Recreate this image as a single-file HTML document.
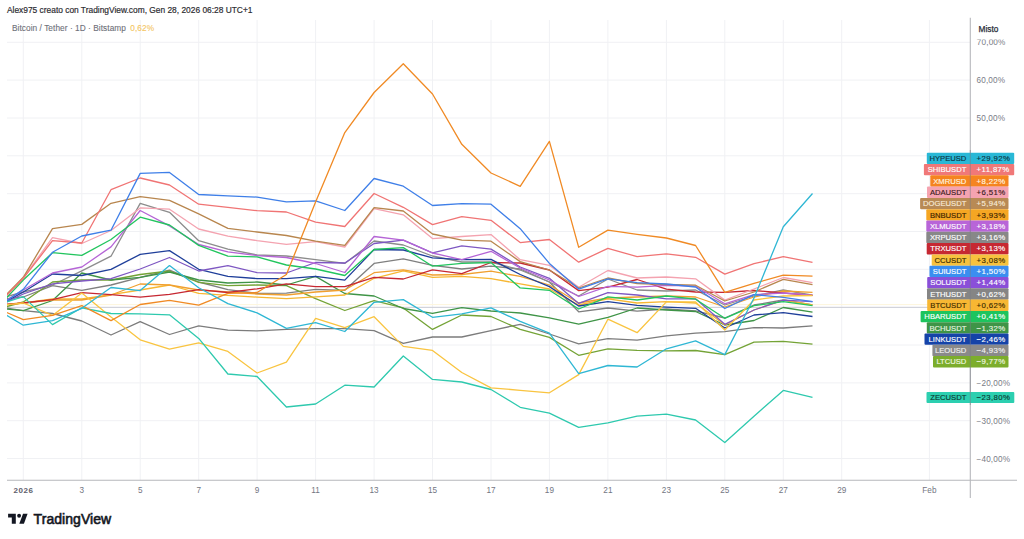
<!DOCTYPE html><html><head><meta charset="utf-8"><style>html,body{margin:0;padding:0;background:#fff;width:1024px;height:539px;overflow:hidden}svg{display:block}text{font-family:"Liberation Sans",sans-serif}</style></head><body>
<svg width="1024" height="539" viewBox="0 0 1024 539">
<rect width="1024" height="539" fill="#fff"/>
<path d="M7 42.3H970.3 M7 80.1H970.3 M7 118.0H970.3 M7 155.8H970.3 M7 193.7H970.3 M7 231.5H970.3 M7 269.3H970.3 M7 307.2H970.3 M7 345.0H970.3 M7 382.9H970.3 M7 420.7H970.3 M7 458.5H970.3 M23.3 20V480 M81.8 20V480 M140.2 20V480 M198.7 20V480 M257.1 20V480 M315.6 20V480 M374.1 20V480 M432.5 20V480 M491.0 20V480 M549.4 20V480 M607.9 20V480 M666.4 20V480 M724.8 20V480 M783.3 20V480 M841.7 20V480 M929.4 20V480" stroke="#f0f1f4" stroke-width="1" fill="none"/>
<path d="M7 304.6H970.3" stroke="#fdf5dc" stroke-width="1"/><path d="M7 307.4H970.3" stroke="#c9cbd3" stroke-width="0.9"/>
<g fill="none" stroke-width="1.3" stroke-linejoin="round" clip-path="url(#cp)">
<defs><clipPath id="cp"><rect x="7" y="18" width="963" height="462"/></clipPath></defs>
<polyline points="-5.9,306.0 23.3,310.7 52.5,313.5 81.8,321.0 111.0,335.0 140.2,321.6 169.5,334.5 198.7,325.9 227.9,330.2 257.1,330.9 286.4,329.4 315.6,328.6 344.8,328.6 374.1,330.6 403.3,343.3 432.5,337.0 461.8,337.0 491.0,330.6 520.2,324.3 549.4,334.0 578.7,343.9 607.9,338.7 637.1,340.2 666.4,335.9 695.6,333.1 724.8,331.7 754.0,327.6 783.3,328.0 812.5,325.9" stroke="#7c7c7c"/>
<polyline points="-5.9,300.0 23.3,297.0 52.5,285.7 81.8,290.3 111.0,285.0 140.2,277.3 169.5,270.2 198.7,282.0 227.9,289.7 257.1,293.4 286.4,293.1 315.6,289.4 344.8,290.3 374.1,263.4 403.3,258.8 432.5,265.3 461.8,269.0 491.0,266.2 520.2,269.0 549.4,282.0 578.7,311.8 607.9,308.0 637.1,311.2 666.4,309.0 695.6,310.8 724.8,318.0 754.0,305.0 783.3,300.0 812.5,304.9" stroke="#7f7f7f"/>
<polyline points="-5.9,300.0 23.3,292.0 52.5,285.0 81.8,270.8 111.0,256.2 140.2,203.4 169.5,212.3 198.7,240.7 227.9,249.1 257.1,255.0 286.4,256.0 315.6,259.7 344.8,263.4 374.1,241.0 403.3,245.0 432.5,256.0 461.8,262.0 491.0,262.0 520.2,270.0 549.4,282.0 578.7,296.0 607.9,279.0 637.1,290.0 666.4,291.0 695.6,290.0 724.8,305.0 754.0,296.0 783.3,290.0 812.5,295.2" stroke="#8c8c8c"/>
<polyline points="-5.9,310.0 23.3,302.0 52.5,282.0 81.8,280.0 111.0,280.0 140.2,274.5 169.5,271.0 198.7,282.3 227.9,285.6 257.1,285.0 286.4,285.7 315.6,298.7 344.8,310.5 374.1,300.6 403.3,307.9 432.5,329.4 461.8,315.0 491.0,316.5 520.2,329.4 549.4,337.4 578.7,355.3 607.9,348.9 637.1,350.3 666.4,350.8 695.6,350.5 724.8,354.6 754.0,342.1 783.3,341.3 812.5,344.2" stroke="#74a336"/>
<polyline points="-5.9,308.0 23.3,310.7 52.5,300.5 81.8,273.0 111.0,280.0 140.2,277.3 169.5,272.0 198.7,280.0 227.9,283.0 257.1,282.0 286.4,285.0 315.6,276.4 344.8,293.5 374.1,296.0 403.3,308.5 432.5,313.3 461.8,307.7 491.0,311.0 520.2,313.0 549.4,317.8 578.7,324.2 607.9,317.3 637.1,308.0 666.4,310.0 695.6,311.5 724.8,325.0 754.0,320.5 783.3,307.5 812.5,312.2" stroke="#3f9447"/>
<polyline points="-5.9,306.0 23.3,303.0 52.5,299.0 81.8,299.0 111.0,294.6 140.2,290.0 169.5,285.0 198.7,293.4 227.9,295.3 257.1,297.1 286.4,298.7 315.6,296.8 344.8,295.0 374.1,278.3 403.3,270.8 432.5,277.3 461.8,276.4 491.0,278.6 520.2,283.8 549.4,289.0 578.7,305.0 607.9,298.8 637.1,303.0 666.4,301.6 695.6,303.0 724.8,325.0 754.0,310.0 783.3,300.0 812.5,304.9" stroke="#f7b733"/>
<polyline points="-5.9,306.0 23.3,303.0 52.5,300.0 81.8,300.0 111.0,295.0 140.2,284.0 169.5,285.0 198.7,290.0 227.9,292.0 257.1,294.0 286.4,295.0 315.6,292.0 344.8,290.0 374.1,272.7 403.3,269.9 432.5,275.0 461.8,274.5 491.0,271.2 520.2,276.4 549.4,285.0 578.7,303.0 607.9,298.0 637.1,297.0 666.4,296.0 695.6,297.0 724.8,307.0 754.0,297.0 783.3,291.0 812.5,292.3" stroke="#f0a030"/>
<polyline points="-5.9,305.0 23.3,303.0 52.5,299.6 81.8,292.7 111.0,294.6 140.2,297.1 169.5,294.3 198.7,289.7 227.9,292.5 257.1,288.8 286.4,283.8 315.6,286.6 344.8,286.6 374.1,277.3 403.3,279.0 432.5,269.9 461.8,273.6 491.0,262.5 520.2,263.0 549.4,270.0 578.7,290.6 607.9,287.2 637.1,279.5 666.4,289.1 695.6,292.0 724.8,292.3 754.0,290.5 783.3,293.0 812.5,295.4" stroke="#c62832"/>
<polyline points="-5.9,308.0 23.3,292.0 52.5,274.0 81.8,275.5 111.0,269.4 140.2,254.4 169.5,250.6 198.7,269.3 227.9,276.3 257.1,278.6 286.4,278.6 315.6,276.4 344.8,280.1 374.1,249.5 403.3,250.0 432.5,257.8 461.8,259.7 491.0,259.3 520.2,274.5 549.4,286.6 578.7,306.0 607.9,301.6 637.1,305.3 666.4,307.1 695.6,308.3 724.8,328.0 754.0,315.0 783.3,312.7 812.5,316.5" stroke="#1f3f9a"/>
<polyline points="-5.9,308.0 23.3,294.0 52.5,283.8 81.8,281.0 111.0,278.6 140.2,269.0 169.5,257.5 198.7,271.0 227.9,265.6 257.1,272.6 286.4,273.0 315.6,262.5 344.8,263.0 374.1,243.5 403.3,240.2 432.5,252.8 461.8,245.8 491.0,249.1 520.2,267.0 549.4,278.3 578.7,303.4 607.9,292.6 637.1,295.0 666.4,298.8 695.6,298.8 724.8,324.3 754.0,310.0 783.3,300.1 812.5,301.7" stroke="#7e57c2"/>
<polyline points="-5.9,308.0 23.3,290.0 52.5,273.0 81.8,267.0 111.0,246.9 140.2,210.5 169.5,225.9 198.7,244.5 227.9,251.9 257.1,255.6 286.4,257.5 315.6,263.5 344.8,272.5 374.1,236.5 403.3,240.2 432.5,253.0 461.8,259.7 491.0,251.3 520.2,268.0 549.4,280.0 578.7,296.5 607.9,286.3 637.1,287.2 666.4,285.4 695.6,286.2 724.8,303.8 754.0,294.6 783.3,293.0 812.5,295.2" stroke="#b565d6"/>
<polyline points="-5.9,311.0 23.3,280.0 52.5,252.7 81.8,255.4 111.0,239.5 140.2,217.2 169.5,225.0 198.7,245.4 227.9,256.2 257.1,256.9 286.4,265.0 315.6,269.0 344.8,275.5 374.1,249.5 403.3,247.6 432.5,266.2 461.8,263.4 491.0,262.5 520.2,287.9 549.4,290.3 578.7,309.0 607.9,296.9 637.1,300.0 666.4,296.0 695.6,299.2 724.8,318.3 754.0,305.7 783.3,301.6 812.5,305.6" stroke="#22c55e"/>
<polyline points="-5.9,306.0 23.3,303.0 52.5,315.4 81.8,293.0 111.0,317.0 140.2,339.8 169.5,349.1 198.7,342.9 227.9,351.4 257.1,373.0 286.4,362.2 315.6,318.4 344.8,327.6 374.1,316.7 403.3,346.4 432.5,350.4 461.8,372.5 491.0,387.8 520.2,390.3 549.4,392.8 578.7,374.6 607.9,319.2 637.1,332.7 666.4,301.9 695.6,301.9 724.8,330.0 754.0,300.0 783.3,296.0 812.5,295.5" stroke="#f9c440"/>
<polyline points="-5.9,306.0 23.3,296.6 52.5,324.6 81.8,307.8 111.0,313.5 140.2,313.8 169.5,314.8 198.7,338.4 227.9,374.0 257.1,376.5 286.4,407.0 315.6,404.0 344.8,385.2 374.1,387.0 403.3,356.0 432.5,379.4 461.8,382.0 491.0,389.5 520.2,407.3 549.4,413.2 578.7,427.3 607.9,422.9 637.1,416.2 666.4,414.1 695.6,420.0 724.8,442.5 754.0,416.2 783.3,390.4 812.5,397.3" stroke="#2ec9ae"/>
<polyline points="-5.9,307.9 23.3,278.0 52.5,237.6 81.8,243.5 111.0,230.5 140.2,207.9 169.5,209.2 198.7,229.0 227.9,236.1 257.1,240.7 286.4,244.3 315.6,241.7 344.8,247.0 374.1,208.6 403.3,214.8 432.5,238.6 461.8,236.5 491.0,234.6 520.2,259.7 549.4,265.3 578.7,287.2 607.9,270.5 637.1,278.0 666.4,277.0 695.6,278.8 724.8,300.1 754.0,289.0 783.3,277.5 812.5,282.6" stroke="#f4a3b0"/>
<polyline points="-5.9,307.2 23.3,277.3 52.5,228.7 81.8,224.4 111.0,203.3 140.2,196.6 169.5,200.3 198.7,213.8 227.9,228.3 257.1,232.0 286.4,235.5 315.6,241.1 344.8,245.3 374.1,207.7 403.3,211.0 432.5,234.0 461.8,240.2 491.0,241.2 520.2,261.6 549.4,270.0 578.7,288.0 607.9,278.0 637.1,283.5 666.4,284.5 695.6,285.2 724.8,301.0 754.0,292.0 783.3,279.3 812.5,284.7" stroke="#b8864e"/>
<polyline points="-5.9,308.2 23.3,278.3 52.5,240.7 81.8,243.0 111.0,189.7 140.2,178.0 169.5,185.0 198.7,204.2 227.9,207.3 257.1,210.7 286.4,212.0 315.6,222.2 344.8,226.5 374.1,193.5 403.3,207.3 432.5,224.6 461.8,216.6 491.0,220.3 520.2,242.6 549.4,239.5 578.7,262.2 607.9,248.3 637.1,256.6 666.4,253.8 695.6,257.3 724.8,274.1 754.0,263.7 783.3,256.7 812.5,262.3" stroke="#f07474"/>
<polyline points="-5.9,309.3 23.3,289.4 52.5,252.3 81.8,236.0 111.0,230.2 140.2,173.4 169.5,172.4 198.7,194.5 227.9,195.8 257.1,197.1 286.4,201.8 315.6,200.8 344.8,210.5 374.1,178.5 403.3,186.2 432.5,205.5 461.8,203.6 491.0,204.2 520.2,228.7 549.4,263.4 578.7,289.1 607.9,278.9 637.1,282.6 666.4,284.0 695.6,287.0 724.8,308.5 754.0,294.6 783.3,297.3 812.5,301.6" stroke="#3f7fe8"/>
<polyline points="-5.9,307.0 23.3,319.7 52.5,315.4 81.8,305.7 111.0,320.6 140.2,304.5 169.5,300.3 198.7,305.1 227.9,293.4 257.1,292.5 286.4,274.5 315.6,202.0 344.8,132.6 374.1,92.5 403.3,63.8 432.5,94.0 461.8,144.3 491.0,173.0 520.2,186.3 549.4,141.4 578.7,247.3 607.9,230.1 637.1,234.3 666.4,238.0 695.6,245.5 724.8,292.3 754.0,283.4 783.3,275.1 812.5,276.1" stroke="#f08a24"/>
<polyline points="-5.9,307.8 23.3,325.2 52.5,320.6 81.8,308.3 111.0,287.5 140.2,290.6 169.5,265.6 198.7,287.8 227.9,303.6 257.1,312.9 286.4,328.4 315.6,322.6 344.8,331.5 374.1,302.3 403.3,299.6 432.5,317.3 461.8,313.8 491.0,307.9 520.2,321.4 549.4,333.1 578.7,373.7 607.9,365.5 637.1,367.0 666.4,348.8 695.6,340.9 724.8,354.6 754.0,298.0 783.3,226.8 812.5,193.5" stroke="#2fb7d4"/>
</g>
<path d="M7 480.3H1017M970.3 17.8V498" stroke="#b7b8bc" stroke-width="1.1" fill="none"/>
<text x="7" y="13.1" font-size="8.4" fill="#2b2b30" stroke="#2b2b30" stroke-width="0.18">Alex975 creato con TradingView.com, Gen 28, 2026 06:28 UTC+1</text>
<text x="12" y="30.9" font-size="8.3" fill="#6e7079" stroke="#6e7079" stroke-width="0.1" letter-spacing="0.05">Bitcoin / Tether · 1D · Bitstamp <tspan dx="2" fill="#f4c55e" stroke="#f4c55e">0,62%</tspan></text>
<text x="976.5" y="83.1" font-size="8.2" fill="#797c86" letter-spacing="0.15">60,00%</text>
<text x="976.5" y="121.0" font-size="8.2" fill="#797c86" letter-spacing="0.15">50,00%</text>
<text x="976.5" y="385.9" font-size="8.2" fill="#797c86" letter-spacing="0.15">−20,00%</text>
<text x="976.5" y="423.7" font-size="8.2" fill="#797c86" letter-spacing="0.15">−30,00%</text>
<text x="976.5" y="461.5" font-size="8.2" fill="#797c86" letter-spacing="0.15">−40,00%</text>
<text x="976.8" y="44.7" font-size="8.2" letter-spacing="0.15" fill="#797c86" clip-path="url(#c70)">70,00%</text>
<defs><clipPath id="c70"><rect x="971" y="39.6" width="50" height="10"/></clipPath></defs>
<text x="978.5" y="32.3" font-size="8.3" fill="#2a2e39" stroke="#2a2e39" stroke-width="0.25">Misto</text>
<text x="23.5" y="493.2" font-size="8" font-weight="bold" fill="#5d606b" letter-spacing="0.5" text-anchor="middle">2026</text>
<text x="81.8" y="493.2" font-size="8.2" fill="#737682" text-anchor="middle">3</text>
<text x="140.2" y="493.2" font-size="8.2" fill="#737682" text-anchor="middle">5</text>
<text x="198.7" y="493.2" font-size="8.2" fill="#737682" text-anchor="middle">7</text>
<text x="257.1" y="493.2" font-size="8.2" fill="#737682" text-anchor="middle">9</text>
<text x="315.6" y="493.2" font-size="8.2" fill="#737682" text-anchor="middle">11</text>
<text x="374.1" y="493.2" font-size="8.2" fill="#737682" text-anchor="middle">13</text>
<text x="432.5" y="493.2" font-size="8.2" fill="#737682" text-anchor="middle">15</text>
<text x="491.0" y="493.2" font-size="8.2" fill="#737682" text-anchor="middle">17</text>
<text x="549.4" y="493.2" font-size="8.2" fill="#737682" text-anchor="middle">19</text>
<text x="607.9" y="493.2" font-size="8.2" fill="#737682" text-anchor="middle">21</text>
<text x="666.4" y="493.2" font-size="8.2" fill="#737682" text-anchor="middle">23</text>
<text x="724.8" y="493.2" font-size="8.2" fill="#737682" text-anchor="middle">25</text>
<text x="783.3" y="493.2" font-size="8.2" fill="#737682" text-anchor="middle">27</text>
<text x="841.7" y="493.2" font-size="8.2" fill="#737682" text-anchor="middle">29</text>
<text x="929.4" y="493.2" font-size="8.2" fill="#737682" text-anchor="middle">Feb</text>
<rect x="926.8" y="152.70" width="87.4" height="11.35" fill="#2ab8d6" rx="1"/>
<text x="966.4" y="161.00" font-size="7.65" fill="#0b3442" stroke="#0b3442" stroke-width="0.14" text-anchor="end">HYPEUSD</text>
<text x="976.6" y="161.00" font-size="7.8" fill="#0b3442" stroke="#0b3442" stroke-width="0.14" letter-spacing="0.37">+29,92%</text>
<rect x="923.9" y="164.00" width="90.3" height="11.35" fill="#f07878" rx="1"/>
<text x="966.4" y="172.30" font-size="7.65" fill="#ffffff" stroke="#ffffff" stroke-width="0.14" text-anchor="end">SHIBUSDT</text>
<text x="976.6" y="172.30" font-size="7.8" fill="#ffffff" stroke="#ffffff" stroke-width="0.14" letter-spacing="0.37">+11,87%</text>
<rect x="930.3" y="175.30" width="78.2" height="11.35" fill="#f5841f" rx="1"/>
<text x="966.4" y="183.60" font-size="7.65" fill="#fff6e0" stroke="#fff6e0" stroke-width="0.14" text-anchor="end">XMRUSD</text>
<text x="976.6" y="183.60" font-size="7.8" fill="#fff6e0" stroke="#fff6e0" stroke-width="0.14" letter-spacing="0.37">+8,22%</text>
<rect x="927" y="186.60" width="81.5" height="11.35" fill="#f5a3b0" rx="1"/>
<text x="966.4" y="194.90" font-size="7.65" fill="#3a1a22" stroke="#3a1a22" stroke-width="0.14" text-anchor="end">ADAUSDT</text>
<text x="976.6" y="194.90" font-size="7.8" fill="#3a1a22" stroke="#3a1a22" stroke-width="0.14" letter-spacing="0.37">+6,51%</text>
<rect x="920.1" y="197.90" width="88.4" height="11.35" fill="#b88a55" rx="1"/>
<text x="966.4" y="206.20" font-size="7.65" fill="#f7ead8" stroke="#f7ead8" stroke-width="0.14" text-anchor="end">DOGEUSDT</text>
<text x="976.6" y="206.20" font-size="7.8" fill="#f7ead8" stroke="#f7ead8" stroke-width="0.14" letter-spacing="0.37">+5,94%</text>
<rect x="926.3" y="209.20" width="82.2" height="11.35" fill="#f5a623" rx="1"/>
<text x="966.4" y="217.50" font-size="7.65" fill="#3a2200" stroke="#3a2200" stroke-width="0.14" text-anchor="end">BNBUSDT</text>
<text x="976.6" y="217.50" font-size="7.8" fill="#3a2200" stroke="#3a2200" stroke-width="0.14" letter-spacing="0.37">+3,93%</text>
<rect x="926.3" y="220.50" width="82.2" height="11.35" fill="#b865d8" rx="1"/>
<text x="966.4" y="228.80" font-size="7.65" fill="#ffffff" stroke="#ffffff" stroke-width="0.14" text-anchor="end">XLMUSDT</text>
<text x="976.6" y="228.80" font-size="7.8" fill="#ffffff" stroke="#ffffff" stroke-width="0.14" letter-spacing="0.37">+3,18%</text>
<rect x="926.3" y="231.80" width="82.2" height="11.35" fill="#888888" rx="1"/>
<text x="966.4" y="240.10" font-size="7.65" fill="#ffffff" stroke="#ffffff" stroke-width="0.14" text-anchor="end">XRPUSDT</text>
<text x="976.6" y="240.10" font-size="7.8" fill="#ffffff" stroke="#ffffff" stroke-width="0.14" letter-spacing="0.37">+3,16%</text>
<rect x="926.7" y="243.10" width="81.8" height="11.35" fill="#c62832" rx="1"/>
<text x="966.4" y="251.40" font-size="7.65" fill="#ffffff" stroke="#ffffff" stroke-width="0.14" text-anchor="end">TRXUSDT</text>
<text x="976.6" y="251.40" font-size="7.8" fill="#ffffff" stroke="#ffffff" stroke-width="0.14" letter-spacing="0.37">+3,13%</text>
<rect x="931.7" y="254.40" width="76.8" height="11.35" fill="#f7c23e" rx="1"/>
<text x="966.4" y="262.70" font-size="7.65" fill="#3a2a00" stroke="#3a2a00" stroke-width="0.14" text-anchor="end">CCUSDT</text>
<text x="976.6" y="262.70" font-size="7.8" fill="#3a2a00" stroke="#3a2a00" stroke-width="0.14" letter-spacing="0.37">+3,08%</text>
<rect x="929.5" y="265.70" width="79.0" height="11.35" fill="#3a8ef0" rx="1"/>
<text x="966.4" y="274.00" font-size="7.65" fill="#ffffff" stroke="#ffffff" stroke-width="0.14" text-anchor="end">SUIUSDT</text>
<text x="976.6" y="274.00" font-size="7.8" fill="#ffffff" stroke="#ffffff" stroke-width="0.14" letter-spacing="0.37">+1,50%</text>
<rect x="927.2" y="277.00" width="81.3" height="11.35" fill="#8a4fd8" rx="1"/>
<text x="966.4" y="285.30" font-size="7.65" fill="#ffffff" stroke="#ffffff" stroke-width="0.14" text-anchor="end">SOLUSDT</text>
<text x="976.6" y="285.30" font-size="7.8" fill="#ffffff" stroke="#ffffff" stroke-width="0.14" letter-spacing="0.37">+1,44%</text>
<rect x="927" y="288.30" width="81.5" height="11.35" fill="#858585" rx="1"/>
<text x="966.4" y="296.60" font-size="7.65" fill="#ffffff" stroke="#ffffff" stroke-width="0.14" text-anchor="end">ETHUSDT</text>
<text x="976.6" y="296.60" font-size="7.8" fill="#ffffff" stroke="#ffffff" stroke-width="0.14" letter-spacing="0.37">+0,62%</text>
<rect x="927.2" y="299.60" width="81.3" height="11.35" fill="#f7b733" rx="1"/>
<text x="966.4" y="307.90" font-size="7.65" fill="#3a2a00" stroke="#3a2a00" stroke-width="0.14" text-anchor="end">BTCUSDT</text>
<text x="976.6" y="307.90" font-size="7.8" fill="#3a2a00" stroke="#3a2a00" stroke-width="0.14" letter-spacing="0.37">+0,62%</text>
<rect x="920.6" y="310.90" width="87.9" height="11.35" fill="#1ec45e" rx="1"/>
<text x="966.4" y="319.20" font-size="7.65" fill="#ffffff" stroke="#ffffff" stroke-width="0.14" text-anchor="end">HBARUSDT</text>
<text x="976.6" y="319.20" font-size="7.8" fill="#ffffff" stroke="#ffffff" stroke-width="0.14" letter-spacing="0.37">+0,41%</text>
<rect x="926.8" y="322.20" width="81.7" height="11.35" fill="#3f9447" rx="1"/>
<text x="966.4" y="330.50" font-size="7.65" fill="#e8f5e0" stroke="#e8f5e0" stroke-width="0.14" text-anchor="end">BCHUSDT</text>
<text x="976.6" y="330.50" font-size="7.8" fill="#e8f5e0" stroke="#e8f5e0" stroke-width="0.14" letter-spacing="0.37">−1,32%</text>
<rect x="924.5" y="333.50" width="84.0" height="11.35" fill="#1543a8" rx="1"/>
<text x="966.4" y="341.80" font-size="7.65" fill="#ffffff" stroke="#ffffff" stroke-width="0.14" text-anchor="end">LINKUSDT</text>
<text x="976.6" y="341.80" font-size="7.8" fill="#ffffff" stroke="#ffffff" stroke-width="0.14" letter-spacing="0.37">−2,46%</text>
<rect x="932.4" y="344.80" width="76.1" height="11.35" fill="#8a8a8a" rx="1"/>
<text x="966.4" y="353.10" font-size="7.65" fill="#f0f0f0" stroke="#f0f0f0" stroke-width="0.14" text-anchor="end">LEOUSD</text>
<text x="976.6" y="353.10" font-size="7.8" fill="#f0f0f0" stroke="#f0f0f0" stroke-width="0.14" letter-spacing="0.37">−4,93%</text>
<rect x="933" y="356.10" width="75.5" height="11.35" fill="#7cad2c" rx="1"/>
<text x="966.4" y="364.40" font-size="7.65" fill="#f0f8e0" stroke="#f0f8e0" stroke-width="0.14" text-anchor="end">LTCUSD</text>
<text x="976.6" y="364.40" font-size="7.8" fill="#f0f8e0" stroke="#f0f8e0" stroke-width="0.14" letter-spacing="0.37">−9,77%</text>
<rect x="926.5" y="391.9" width="87.8" height="11" fill="#2ccfb0" rx="1"/>
<text x="966.4" y="400.20" font-size="7.65" fill="#0b3a32" stroke="#0b3a32" stroke-width="0.14" text-anchor="end">ZECUSDT</text>
<text x="976.6" y="400.20" font-size="7.8" fill="#0b3a32" stroke="#0b3a32" stroke-width="0.14" letter-spacing="0.37">−23,80%</text>
<path d="M970.3 150V405" stroke="#7a7d86" stroke-width="1" opacity="0.55"/>
<g fill="#131722"><path d="M8.1 513.7H15.8V523.7H11.8V517.6H8.1Z"/><circle cx="19.1" cy="515.7" r="1.95"/><path d="M23 513.7H27.6L23.9 523.7H19.3Z"/></g>
<text x="33.6" y="523.6" font-size="14" fill="#131722" stroke="#131722" stroke-width="0.6" letter-spacing="0.05">TradingView</text>
</svg></body></html>
